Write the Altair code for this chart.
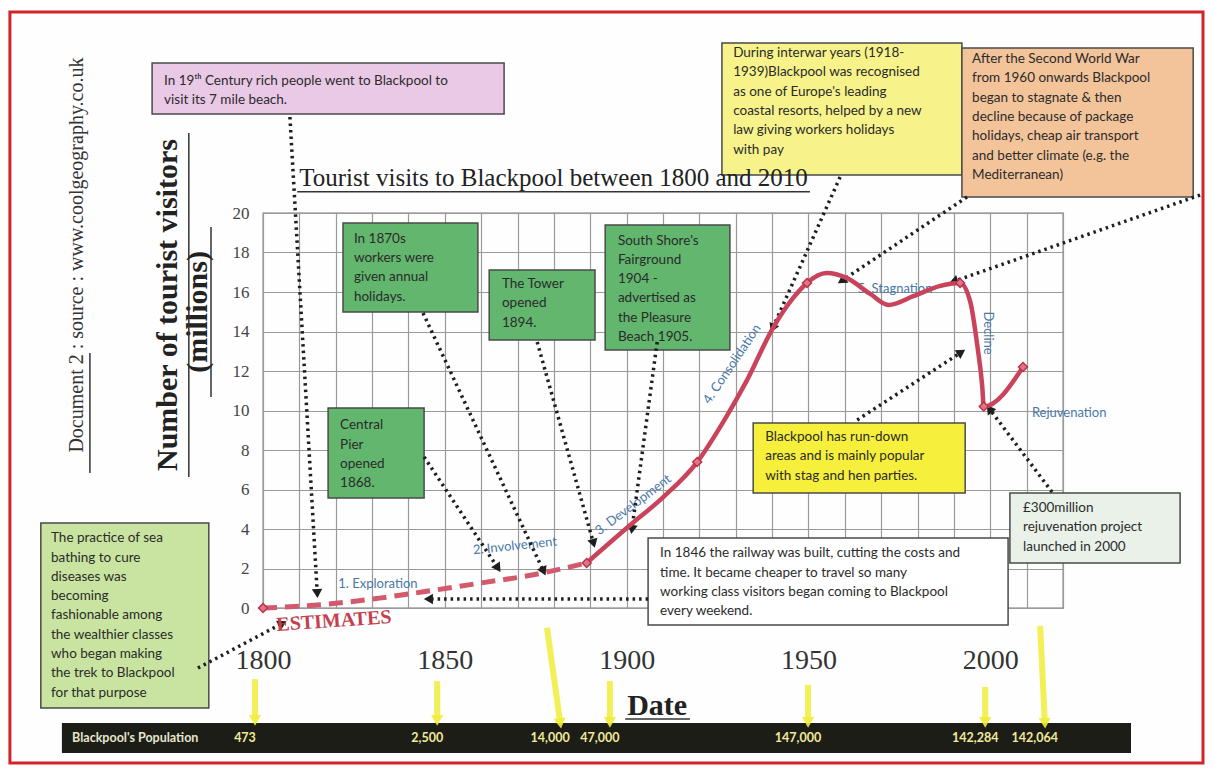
import altair as alt
import numpy as np
import pandas as pd

# ---------------- data (years / millions of visits) ----------------
est_years = [1800, 1815, 1832, 1847, 1860, 1874, 1889]
est_visits = [0.0, 0.15, 0.5, 0.9, 1.27, 1.67, 2.28]

obs_years = [1889, 1901, 1910, 1919.4, 1926.5, 1933, 1940.3, 1945.8, 1949.6, 1955,
             1960.6, 1967, 1972, 1979, 1986, 1991.7, 1994.5, 1996.5, 1997.8, 1998.2, 2009]
obs_visits = [2.28, 4.2, 5.6, 7.39, 9.4, 11.5, 14.2, 15.7, 16.46, 16.96,
              16.7, 15.9, 15.34, 15.8, 16.3, 16.46, 15.5, 13.2, 11.2, 10.2, 12.2]

marker_years = [1800, 1889, 1919.4, 1949.6, 1991.7, 1998.2, 2009]
marker_visits = [0.0, 2.28, 7.39, 16.46, 16.46, 10.2, 12.2]

y_ticks = [0, 2, 4, 6, 8, 10, 12, 14, 16, 18, 20]
x_grid = list(range(1800, 2021, 10))

pop_years = [1801, 1851, 1881, 1901, 1951, 2001, 2011]
pop_labels = ["473", "2,500", "14,000", "47,000", "147,000", "142,284", "142,064"]

# ---------------- scales / axes ----------------
PXY = 800 / 220   # px per year
PXU = 395 / 20    # px per million

XS = alt.Scale(domain=[1800, 2020], nice=False, zero=False)
YS = alt.Scale(domain=[0, 20], nice=False, zero=False)
XAX = alt.Axis(values=x_grid, format="d", title=None, domain=False, ticks=False, tickSize=0,
               labelExpr="(datum.value % 50 == 0 && datum.value <= 2000) ? datum.label : ''",
               labelFont="Liberation Serif", labelFontSize=28, labelColor="#333",
               labelPadding=52, labelBaseline="middle", labelFlush=False, labelOverlap=False,
               grid=True, gridColor="#9a9a9a", gridWidth=1.2)
YAX = alt.Axis(values=y_ticks, title=None, domain=False, ticks=False, tickSize=0,
               labelFont="Liberation Serif", labelFontSize=17, labelColor="#444",
               labelPadding=14, labelOverlap=False, labelFlush=False,
               grid=True, gridColor="#9a9a9a", gridWidth=1.2)


def X(f):
    return alt.X(f"{f}:Q", scale=XS, axis=XAX)


def Y(f):
    return alt.Y(f"{f}:Q", scale=YS, axis=YAX)


def heading(x1, y1, x2, y2):
    return float(np.degrees(np.arctan2((x2 - x1) * PXY, (y2 - y1) * PXU)) % 360)


# ---------------- annotation layout (data units) ----------------
boxes = pd.DataFrame([
    dict(x=1769.5, x2=1866.3, y=27.59, y2=25.01, fill="#e9c9e6"),   # pink
    dict(x=1926.2, x2=1992.2, y=28.61, y2=21.92, fill="#f7f38a"),   # interwar
    dict(x=1992.2, x2=2055.8, y=28.35, y2=20.81, fill="#f3c49a"),   # post war
    dict(x=1822.0, x2=1859.1, y=19.49, y2=14.99, fill="#62b66e"),   # 1870s
    dict(x=1862.2, x2=1891.3, y=17.11, y2=13.57, fill="#62b66e"),   # tower
    dict(x=1894.1, x2=1928.4, y=19.39, y2=13.06, fill="#62b66e"),   # fairground
    dict(x=1817.9, x2=1844.3, y=10.13, y2=5.57, fill="#62b66e"),    # central pier
    dict(x=1738.9, x2=1785.1, y=4.30, y2=-5.06, fill="#c9e4a0"),    # sea bathing
    dict(x=1934.8, x2=1993.1, y=9.37, y2=5.82, fill="#f6f03c"),     # run-down
    dict(x=1905.9, x2=2004.9, y=3.54, y2=-0.86, fill="#ffffff"),    # railway
    dict(x=2005.4, x2=2052.2, y=5.82, y2=2.28, fill="#e9f1e9"),     # 300 million
])

box_texts = pd.DataFrame([
    dict(x=1772.8, y=27.19, text="In 19ᵗʰ Century rich people went to Blackpool to\nvisit its 7 mile  beach."),
    dict(x=1929.3, y=28.6, text="During interwar years (1918-\n1939)Blackpool was recognised\nas one of Europe's leading\ncoastal resorts, helped by a new\nlaw giving workers holidays\nwith pay"),
    dict(x=1995.0, y=28.3, text="After the Second World War\nfrom 1960 onwards Blackpool\nbegan to stagnate & then\ndecline because of package\nholidays, cheap air transport\nand better climate (e.g. the\nMediterranean)"),
    dict(x=1825.0, y=19.2, text="In 1870s\nworkers were\ngiven annual\nholidays."),
    dict(x=1865.7, y=16.91, text="The Tower\nopened\n1894."),
    dict(x=1897.6, y=19.11, text="South Shore's\nFairground\n1904 -\nadvertised as\nthe Pleasure\nBeach 1905."),
    dict(x=1821.2, y=9.75, text="Central\nPier\nopened\n1868."),
    dict(x=1741.7, y=4.04, text="The practice of sea\nbathing to cure\ndiseases was\nbecoming\nfashionable among\nthe wealthier classes\nwho began making\nthe trek to Blackpool\nfor that purpose"),
    dict(x=1938.1, y=9.16, text="Blackpool has run-down\nareas and is mainly popular\nwith stag and hen parties."),
    dict(x=1909.2, y=3.27, text="In 1846 the railway was built, cutting the costs and\ntime.  It became cheaper to travel so many\nworking class visitors began coming to Blackpool\nevery weekend."),
    dict(x=2009.0, y=5.57, text="£300million\nrejuvenation project\nlaunched in 2000"),
])

arrows = pd.DataFrame([
    dict(x=1807.4, y=24.86, x2=1814.9, y2=0.81),
    dict(x=1844.0, y=14.94, x2=1877.0, y2=1.92),
    dict(x=1844.3, y=7.65, x2=1864.4, y2=2.08),
    dict(x=1875.4, y=13.47, x2=1890.8, y2=3.34),
    dict(x=1908.4, y=13.47, x2=1901.5, y2=4.05),
    dict(x=1958.7, y=21.82, x2=1940.3, y2=14.23),
    dict(x=1993.6, y=20.81, x2=1959.5, y2=16.61),
    dict(x=2057.7, y=20.91, x2=1990.3, y2=16.56),
    dict(x=1963.4, y=9.52, x2=1991.7, y2=12.91),
    dict(x=2017.0, y=5.87, x2=2000.0, y2=10.03),
    dict(x=1905.9, y=0.46, x2=1845.9, y2=0.46),
    dict(x=1782.1, y=-3.04, x2=1805.0, y2=-0.81),
])
arrows["ang"] = [heading(r.x, r.y, r.x2, r.y2) for r in arrows.itertuples()]

# yellow pointers from the year labels down to each population figure
yellow = pd.DataFrame([
    dict(x=1797.8, y=-3.6, x2=1797.8, y2=-5.6),
    dict(x=1847.9, y=-3.7, x2=1847.9, y2=-5.6),
    dict(x=1878.1, y=-1.0, x2=1881.7, y2=-5.75),
    dict(x=1895.4, y=-3.7, x2=1895.4, y2=-5.7),
    dict(x=1949.9, y=-3.9, x2=1949.9, y2=-5.7),
    dict(x=1998.6, y=-4.0, x2=1998.6, y2=-5.7),
    dict(x=2013.7, y=-0.9, x2=2015.0, y2=-5.75),
])
yellow["ang"] = [heading(r.x, r.y, r.x2, r.y2) for r in yellow.itertuples()]
yellow["year"] = pop_years

stages = pd.DataFrame([
    dict(x=1831.6, y=1.22, text="1. Exploration", ang=0),
    dict(x=1869.3, y=3.14, text="2. Involvement", ang=354),
    dict(x=1901.8, y=5.22, text="3. Development", ang=323),
    dict(x=1929.0, y=12.35, text="4. Consolidation", ang=304),
    dict(x=1973.8, y=16.15, text="5. Stagnation", ang=0),
    dict(x=1999.4, y=13.92, text="Decline", ang=90),
    dict(x=2021.7, y=9.87, text="Rejuvenation", ang=0),
])

serif_plain = pd.DataFrame([
    dict(x=1879.9, y=21.77, text="Tourist visits to Blackpool between 1800 and 2010", size=25, ang=0, color="#222"),
    dict(x=1748.8, y=17.87, text="Document 2 : source : www.coolgeography.co.uk", size=20, ang=270, color="#333"),
])
serif_bold = pd.DataFrame([
    dict(x=1773.9, y=15.34, text="Number of tourist visitors", size=30, ang=270, color="#222"),
    dict(x=1782.1, y=14.99, text="(millions)", size=30, ang=270, color="#222"),
    dict(x=1908.4, y=-4.96, text="Date", size=30, ang=0, color="#222"),
    dict(x=1819.5, y=-0.66, text="ESTIMATES", size=20, ang=356, color="#c4404f"),
])
underlines = pd.DataFrame([
    dict(x=1809.4, x2=1950.4, y=21.08, y2=21.08),
    dict(x=1779.6, x2=1779.6, y=24.05, y2=6.63),
    dict(x=1785.7, x2=1785.7, y=19.29, y2=10.68),
    dict(x=1752.4, x2=1752.4, y=12.91, y2=6.84),
    dict(x=1899.6, x2=1917.4, y=-5.62, y2=-5.62),
])

frame = pd.DataFrame([dict(x=1730.4, x2=2058.5, y=30.18, y2=-7.85)])
popbar = pd.DataFrame([dict(x=1744.7, x2=2038.7, y=-5.82, y2=-7.34)])
poplab = pd.DataFrame(dict(year=pop_years, text=pop_labels)).merge(yellow[["year", "x2"]], on="year")
poplab["y"] = -6.58
poptitle = pd.DataFrame([dict(x=1747.5, y=-6.58, text="Blackpool's Population")])

est_df = pd.DataFrame(dict(x=est_years, y=est_visits))
obs_df = pd.DataFrame(dict(x=obs_years, y=obs_visits))
mk_df = pd.DataFrame(dict(x=marker_years, y=marker_visits))

SANS = "Lato"

# ---------------- layers ----------------
L = []
L.append(alt.Chart(frame).mark_rect(fill="transparent", stroke="#d2232a", strokeWidth=3)
         .encode(x=X("x"), x2="x2", y=Y("y"), y2="y2"))
L.append(alt.Chart(boxes).mark_rect(stroke="#4a4a4a", strokeWidth=1.5)
         .encode(x=X("x"), x2="x2", y=Y("y"), y2="y2", fill=alt.Fill("fill:N", scale=None)))
L.append(alt.Chart(box_texts).mark_text(lineBreak="\n", align="left", baseline="line-top",
                                        font=SANS, fontSize=13.5, lineHeight=19.3, color="#2b2b2b")
         .encode(x=X("x"), y=Y("y"), text="text:N"))
L.append(alt.Chart(stages).mark_text(font=SANS, fontSize=13, color="#4a78a8")
         .encode(x=X("x"), y=Y("y"), text="text:N", angle=alt.Angle("ang:Q", scale=None)))
L.append(alt.Chart(arrows).mark_rule(color="#1e1e1e", strokeWidth=3.5, strokeDash=[2.5, 4])
         .encode(x=X("x"), y=Y("y"), x2="x2", y2="y2"))
L.append(alt.Chart(arrows).mark_point(shape="triangle", filled=True, size=110, color="#1e1e1e", opacity=1)
         .encode(x=alt.X("x2:Q", scale=XS, axis=XAX), y=alt.Y("y2:Q", scale=YS, axis=YAX),
                 angle=alt.Angle("ang:Q", scale=None)))
L.append(alt.Chart(est_df).mark_line(color="#d25a6c", strokeWidth=5, strokeDash=[14, 8], interpolate="monotone")
         .encode(x=X("x"), y=Y("y")))
L.append(alt.Chart(obs_df).mark_line(color="#c9435a", strokeWidth=4.5, interpolate="monotone")
         .encode(x=X("x"), y=Y("y")))
L.append(alt.Chart(mk_df).mark_point(shape="diamond", filled=True, size=80, color="#e07585",
                                     stroke="#b8344c", strokeWidth=1.5, opacity=1)
         .encode(x=X("x"), y=Y("y")))
L.append(alt.Chart(serif_plain).mark_text(font="Liberation Serif")
         .encode(x=X("x"), y=Y("y"), text="text:N", size=alt.Size("size:Q", scale=None),
                 angle=alt.Angle("ang:Q", scale=None), color=alt.Color("color:N", scale=None)))
L.append(alt.Chart(serif_bold).mark_text(font="Liberation Serif", fontWeight="bold")
         .encode(x=X("x"), y=Y("y"), text="text:N", size=alt.Size("size:Q", scale=None),
                 angle=alt.Angle("ang:Q", scale=None), color=alt.Color("color:N", scale=None)))
L.append(alt.Chart(underlines).mark_rule(color="#333", strokeWidth=1.5)
         .encode(x=X("x"), y=Y("y"), x2="x2", y2="y2"))
L.append(alt.Chart(popbar).mark_rect(fill="#1d1d18")
         .encode(x=X("x"), x2="x2", y=Y("y"), y2="y2"))
L.append(alt.Chart(yellow).mark_rule(color="#f0ec3a", strokeWidth=6, opacity=0.85)
         .encode(x=X("x"), y=Y("y"), x2="x2", y2="y2"))
L.append(alt.Chart(yellow).mark_point(shape="triangle", filled=True, size=150, color="#f0ec3a", opacity=0.9)
         .encode(x=alt.X("x2:Q", scale=XS, axis=XAX), y=alt.Y("y2:Q", scale=YS, axis=YAX),
                 angle=alt.Angle("ang:Q", scale=None)))
L.append(alt.Chart(poptitle).mark_text(font=SANS, fontSize=12.5, fontWeight="bold", color="#e6e6cc", align="left")
         .encode(x=X("x"), y=Y("y"), text="text:N"))
L.append(alt.Chart(poplab).mark_text(font=SANS, fontSize=12.5, fontWeight="bold", color="#f2ea98", dx=-10)
         .encode(x=alt.X("x2:Q", scale=XS, axis=XAX), y=Y("y"), text="text:N"))

chart = alt.layer(*L).properties(
    width=800, height=395,
    autosize=alt.AutoSizeParams(type="none"),
    padding={"left": 255, "top": 205, "right": 143, "bottom": 157},
    background="#fefefe",
).configure_view(stroke="#777", strokeWidth=1.3)

chart.save("out.html", embed_options={"renderer": "svg", "actions": False})
